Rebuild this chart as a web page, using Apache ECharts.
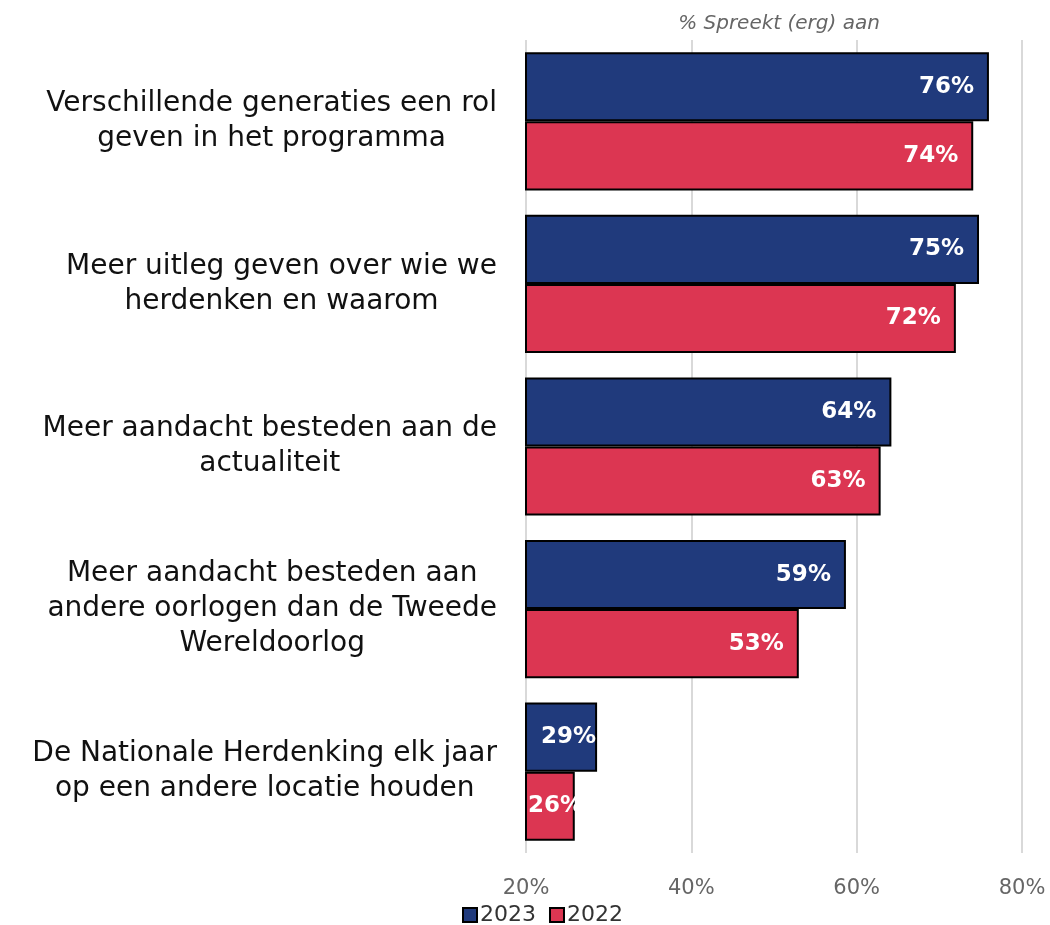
<!DOCTYPE html>
<html>
<head>
<meta charset="utf-8">
<script src="https://cdn.jsdelivr.net/npm/echarts@6/dist/echarts.min.js"></script>
<style>
  html, body { margin: 0; padding: 0; background: #fff; }
  #chart { width: 1050px; height: 925px; }
</style>
</head>
<body>
<div id="chart"></div>
<script>
// categories (top to bottom)
const categories = [
  'Verschillende generaties een rol\ngeven in het programma',
  'Meer uitleg geven over wie we\nherdenken en waarom',
  'Meer aandacht besteden aan de\nactualiteit',
  'Meer aandacht besteden aan\nandere oorlogen dan de Tweede\nWereldoorlog',
  'De Nationale Herdenking elk jaar\nop een andere locatie houden'
]
const values2023 = [76.0, 74.8, 64.2, 58.7, 28.6]
const values2022 = [74.1, 72.0, 62.9, 53.0, 25.9]
const xTicks = [20, 40, 60, 80]

const chart = echarts.init(document.getElementById('chart'))

const labelFont = '"DejaVu Sans", sans-serif'

// last category: Excel puts the labels from the left edge
function barData(vals, leftDist) {
  return vals.map((v, i) => i === vals.length - 1
    ? { value: v, label: { position: 'insideLeft', distance: leftDist } }
    : v)
}

chart.setOption({
  animation: false,
  title: {
    text: '% Spreekt (erg) aan',
    left: 774,
    top: 9,
    textAlign: 'center',
    textStyle: { fontSize: 20, fontStyle: 'italic', fontWeight: 'normal', color: '#666', fontFamily: labelFont }
  },
  legend: {
    left: 457,
    top: 899,
    itemWidth: 14,
    itemHeight: 14,
    itemGap: 13,
    icon: 'rect',
    textStyle: { fontSize: 22, color: '#333', fontFamily: labelFont, padding: [0, 0, 0, -2] },
    data: ['2023', '2022']
  },
  grid: { left: 526, right: 28, top: 40, bottom: 72, containLabel: false },
  xAxis: {
    type: 'value',
    min: xTicks[0],
    max: xTicks[xTicks.length - 1],
    interval: 20,
    axisLine: { show: false },
    axisTick: { show: false },
    splitLine: { lineStyle: { color: '#d9d9d9', width: 2 } },
    axisLabel: { formatter: '{value}%', fontSize: 21, color: '#666', margin: 25, fontFamily: labelFont }
  },
  yAxis: {
    type: 'category',
    inverse: true,
    data: categories,
    axisLine: { show: false },
    axisTick: { show: false },
    axisLabel: {
      margin: 29,
      fontSize: 28,
      color: '#111',
      fontFamily: labelFont,
      formatter: v => '{c|' + v + '}',
      rich: { c: { align: 'center', fontSize: 28, lineHeight: 35, fontFamily: labelFont, color: '#111' } }
    }
  },
  series: [
    {
      name: '2023',
      type: 'bar',
      data: barData(values2023, 16),
      barGap: '0%',
      barCategoryGap: '15%',
      itemStyle: { color: '#203a7c', borderColor: '#000', borderWidth: 2 },
      label: {
        show: true, position: 'insideRight', distance: 15,
        formatter: p => Math.round(p.value) + '%',
        color: '#fff', fontSize: 23, fontWeight: 'bold', fontFamily: labelFont
      }
    },
    {
      name: '2022',
      type: 'bar',
      data: barData(values2022, 3),
      barGap: '0%',
      barCategoryGap: '15%',
      itemStyle: { color: '#dc3652', borderColor: '#000', borderWidth: 2 },
      label: {
        show: true, position: 'insideRight', distance: 15,
        formatter: p => Math.round(p.value) + '%',
        color: '#fff', fontSize: 23, fontWeight: 'bold', fontFamily: labelFont
      }
    }
  ]
})
</script>
</body>
</html>
